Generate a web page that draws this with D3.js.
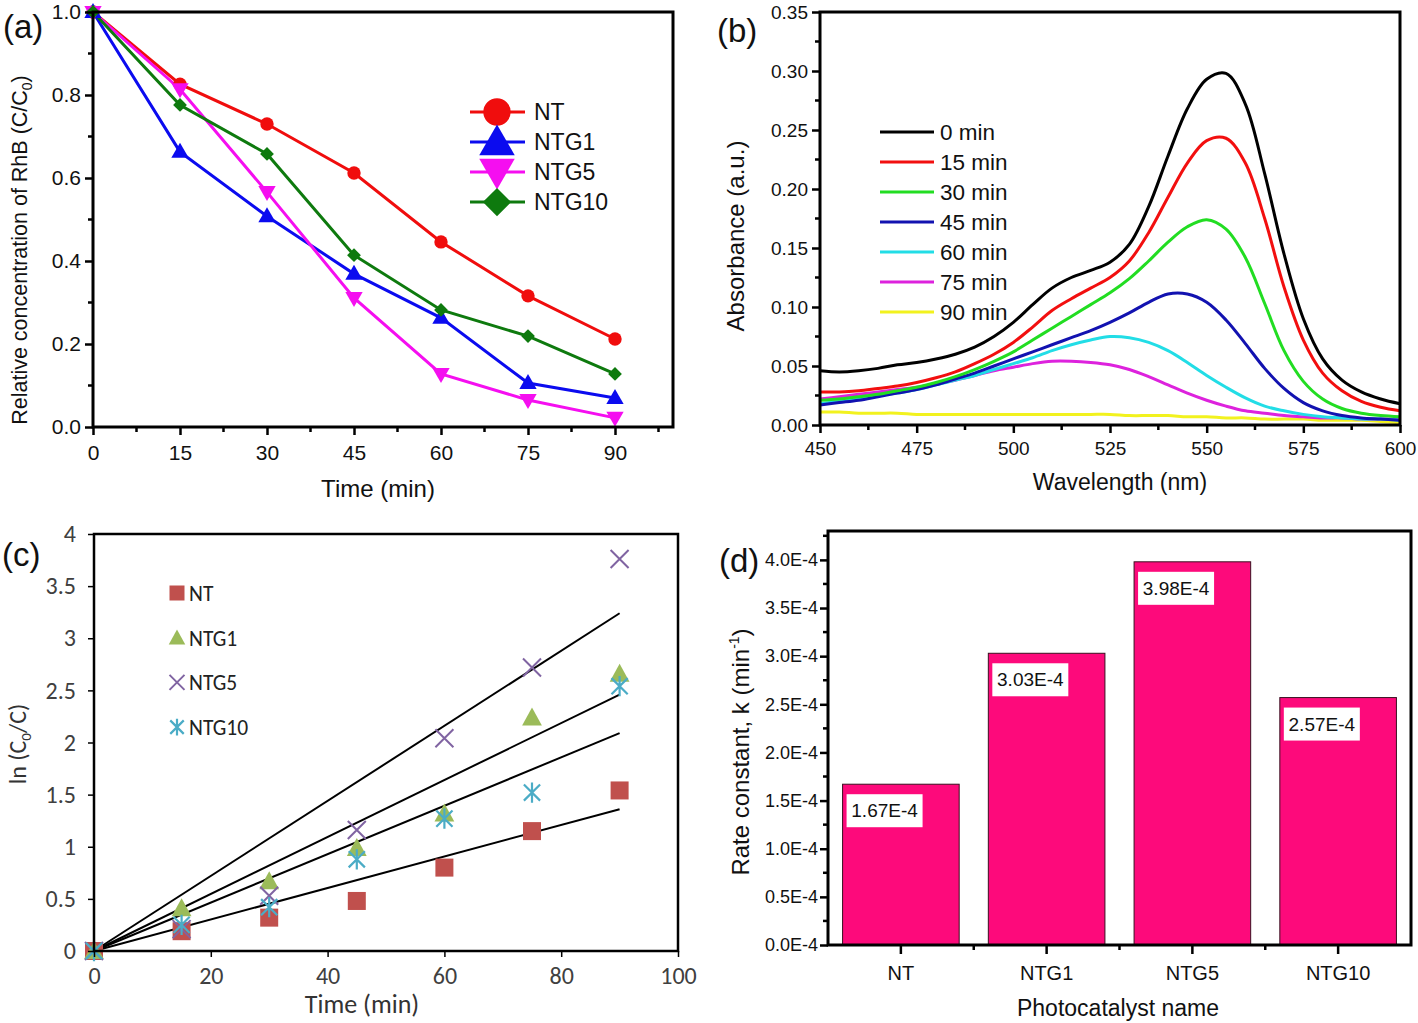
<!DOCTYPE html>
<html><head><meta charset="utf-8">
<script src="https://cdn.jsdelivr.net/npm/d3@7"></script>
<style>body{margin:0;background:#fff}svg{display:block}</style>
</head><body>
<script>
// ---------- DATA ----------
const timeMin = [0, 15, 30, 45, 60, 75, 90];
const seriesNames = ["NT", "NTG1", "NTG5", "NTG10"];
// (a) relative concentration C/C0
const concNT    = [1.0, 0.826, 0.730, 0.612, 0.446, 0.316, 0.212];
const concNTG1  = [1.0, 0.663, 0.508, 0.369, 0.263, 0.106, 0.070];
const concNTG5  = [1.0, 0.814, 0.566, 0.311, 0.128, 0.065, 0.022];
const concNTG10 = [1.0, 0.776, 0.658, 0.414, 0.282, 0.219, 0.128];
// (b) absorbance spectra
const wavelengths = d3.range(450, 601, 5);
const spectraLabels = ["0 min", "15 min", "30 min", "45 min", "60 min", "75 min", "90 min"];
const abs0  = [0.046,0.045,0.046,0.048,0.051,0.053,0.056,0.060,0.066,0.075,0.087,0.102,0.116,0.125,0.131,0.138,0.153,0.185,0.228,0.268,0.293,0.298,0.272,0.213,0.145,0.090,0.056,0.038,0.028,0.022,0.018];
const abs15 = [0.028,0.028,0.029,0.031,0.033,0.036,0.040,0.045,0.052,0.060,0.070,0.083,0.097,0.107,0.116,0.125,0.139,0.163,0.193,0.222,0.241,0.243,0.222,0.175,0.117,0.072,0.044,0.029,0.020,0.015,0.012];
const abs30 = [0.021,0.022,0.024,0.026,0.029,0.032,0.036,0.041,0.047,0.054,0.062,0.072,0.082,0.092,0.102,0.112,0.124,0.139,0.155,0.168,0.174,0.166,0.142,0.103,0.063,0.037,0.022,0.014,0.010,0.008,0.007];
const abs45 = [0.017,0.019,0.021,0.024,0.027,0.030,0.034,0.039,0.044,0.050,0.056,0.062,0.068,0.074,0.080,0.087,0.095,0.104,0.111,0.111,0.104,0.089,0.069,0.048,0.031,0.019,0.012,0.008,0.006,0.005,0.004];
const abs60 = [0.018,0.020,0.022,0.025,0.027,0.030,0.034,0.038,0.042,0.047,0.052,0.057,0.063,0.068,0.072,0.075,0.074,0.070,0.063,0.053,0.042,0.032,0.023,0.016,0.012,0.009,0.007,0.006,0.005,0.005,0.004];
const abs75 = [0.022,0.024,0.026,0.028,0.030,0.032,0.035,0.038,0.042,0.046,0.049,0.052,0.054,0.054,0.053,0.051,0.047,0.041,0.034,0.027,0.021,0.016,0.012,0.010,0.008,0.007,0.006,0.006,0.005,0.005,0.005];
const abs90 = [0.011,0.011,0.010,0.010,0.010,0.009,0.009,0.009,0.009,0.009,0.009,0.009,0.009,0.009,0.009,0.009,0.008,0.008,0.008,0.007,0.007,0.006,0.006,0.005,0.005,0.005,0.004,0.004,0.004,0.003,0.002];
// (c) ln(C0/C)
const lnNT    = [0, 0.19, 0.32, 0.48, 0.80, 1.15, 1.54];
const lnNTG1  = [0, 0.41, 0.67, 0.99, 1.32, 2.24, 2.66];
const lnNTG5  = [0, 0.21, 0.53, 1.16, 2.04, 2.72, 3.76];
const lnNTG10 = [0, 0.25, 0.42, 0.88, 1.27, 1.52, 2.54];
const trendAt90 = [1.36, 2.46, 3.24, 2.09]; // NT, NTG1, NTG5, NTG10 linear fit through origin
// (d) rate constants (x1E-4 min^-1)
const rateCats = ["NT", "NTG1", "NTG5", "NTG10"];
const rateVals = [1.67, 3.03, 3.98, 2.57];
const rateLabels = ["1.67E-4", "3.03E-4", "3.98E-4", "2.57E-4"];

// ---------- STYLE ----------
const W = 1418, H = 1023;
const NARROW = "'Liberation Sans Narrow','Arial Narrow','Liberation Sans',Arial,sans-serif";
const SANS = "'Liberation Sans',Arial,sans-serif";
const CAL = "Carlito,Calibri,Lato,'Open Sans',sans-serif";

const svg = d3.select("body").append("svg").attr("width", W).attr("height", H);

function styleAxis(g, font, size, color) {
  g.select(".domain").remove();
  g.selectAll(".tick line").attr("stroke", "#000").attr("stroke-width", 2.5);
  g.selectAll(".tick text").attr("font-family", font).attr("font-size", size).attr("fill", color || "#111");
}
function minorTicks(parent, scale, vals, orient, pos, len) {
  parent.append("g").selectAll("line").data(vals).join("line")
    .attr("stroke", "#000").attr("stroke-width", 2.5)
    .each(function(v) {
      const s = d3.select(this);
      if (orient === "bottom") s.attr("x1", scale(v)).attr("x2", scale(v)).attr("y1", pos).attr("y2", pos + len);
      else s.attr("y1", scale(v)).attr("y2", scale(v)).attr("x1", pos).attr("x2", pos - len);
    });
}
function frame(parent, x0, y0, x1, y1, sw) {
  parent.append("rect").attr("x", x0).attr("y", y0).attr("width", x1 - x0).attr("height", y1 - y0)
    .attr("fill", "none").attr("stroke", "#000").attr("stroke-width", sw);
}
function text(parent, x, y, str, size, font, anchor) {
  return parent.append("text").attr("x", x).attr("y", y).text(str)
    .attr("font-size", size).attr("font-family", font || SANS).attr("text-anchor", anchor || "start").attr("fill", "#111");
}

// ================= PANEL (a) =================
(function() {
  const g = svg.append("g");
  const L = 93, T = 12, R = 673, B = 427;
  const x = d3.scaleLinear([0, 100], [L, R]);
  const y = d3.scaleLinear([0, 1], [B, T]);
  const colors = ["#f00d0d", "#0b0bef", "#f50ef0", "#0e7a0e"];
  const data = [concNT, concNTG1, concNTG5, concNTG10];
  const symbols = [d3.symbolCircle, d3.symbolTriangle, d3.symbolTriangle, d3.symbolSquare];
  const rot = [0, 0, 180, 45];
  const sizes = [140, 130, 130, 95];

  const line = d3.line().x((d, i) => x(timeMin[i])).y(d => y(d));
  data.forEach((arr, k) => {
    g.append("path").attr("d", line(arr)).attr("fill", "none").attr("stroke", colors[k]).attr("stroke-width", 3);
  });
  data.forEach((arr, k) => {
    g.append("g").selectAll("path").data(arr).join("path")
      .attr("d", d3.symbol(symbols[k], sizes[k]))
      .attr("transform", (d, i) => `translate(${x(timeMin[i])},${y(d) + (k === 1 ? 1 : k === 2 ? -1 : 0)}) rotate(${rot[k]})`)
      .attr("fill", colors[k]);
  });

  const ax = g.append("g").attr("transform", `translate(0,${B})`)
    .call(d3.axisBottom(x).tickValues(timeMin).tickSize(8).tickPadding(10).tickFormat(d3.format("d")));
  styleAxis(ax, NARROW, 21);
  minorTicks(g, x, d3.range(7.5, 100, 15), "bottom", B, 5);
  const ay = g.append("g").attr("transform", `translate(${L},0)`)
    .call(d3.axisLeft(y).tickValues([0, 0.2, 0.4, 0.6, 0.8, 1.0]).tickSize(8).tickPadding(4).tickFormat(d3.format(".1f")));
  styleAxis(ay, NARROW, 21);
  minorTicks(g, y, [0.1, 0.3, 0.5, 0.7, 0.9], "left", L, 5);
  frame(g, L, T, R, B, 3);

  text(g, 3, 38, "(a)", 33);
  text(g, 378, 497, "Time (min)", 24, SANS, "middle");
  const yt = g.append("text").attr("transform", "translate(27,250) rotate(-90)")
    .attr("text-anchor", "middle").attr("font-family", SANS).attr("font-size", 21.5).attr("fill", "#111");
  yt.append("tspan").text("Relative concentration of RhB (C/C");
  yt.append("tspan").text("0").attr("font-size", 14).attr("dy", 5);
  yt.append("tspan").text(")").attr("dy", -5);

  // legend
  seriesNames.forEach((n, k) => {
    const ly = 112 + 30 * k;
    g.append("line").attr("x1", 470).attr("x2", 525).attr("y1", ly).attr("y2", ly).attr("stroke", colors[k]).attr("stroke-width", 3);
    g.append("path").attr("d", d3.symbol(symbols[k], sizes[k] * 4.2))
      .attr("transform", `translate(497,${ly + (k === 1 ? 3 : k === 2 ? -3 : 0)}) rotate(${rot[k]})`).attr("fill", colors[k]);
    text(g, 534, ly + 8, n, 23, SANS);
  });
})();

// ================= PANEL (b) =================
(function() {
  const g = svg.append("g");
  const L = 820, T = 12, R = 1400, B = 425;
  const x = d3.scaleLinear([450, 600], [L, R]);
  const y = d3.scaleLinear([0, 0.35], [B, T]);
  const colors = ["#000000", "#f20f0f", "#22dd22", "#1212b0", "#22dde6", "#dd22dd", "#f2f21e"];
  const data = [abs0, abs15, abs30, abs45, abs60, abs75, abs90];
  const line = d3.line().x((d, i) => x(wavelengths[i])).y(d => y(d)).curve(d3.curveCatmullRom);
  for (let k = data.length - 1; k >= 0; k--) {
    g.append("path").attr("d", line(data[k])).attr("fill", "none").attr("stroke", colors[k]).attr("stroke-width", 3);
  }
  const ax = g.append("g").attr("transform", `translate(0,${B})`)
    .call(d3.axisBottom(x).tickValues(d3.range(450, 601, 25)).tickSize(8).tickPadding(9).tickFormat(d3.format("d")));
  styleAxis(ax, NARROW, 19);
  minorTicks(g, x, d3.range(462.5, 600, 25), "bottom", B, 5);
  const ay = g.append("g").attr("transform", `translate(${L},0)`)
    .call(d3.axisLeft(y).tickValues(d3.range(0, 0.351, 0.05)).tickSize(8).tickPadding(4).tickFormat(d3.format(".2f")));
  styleAxis(ay, NARROW, 19);
  minorTicks(g, y, d3.range(0.025, 0.35, 0.05), "left", L, 5);
  frame(g, L, T, R, B, 3);

  text(g, 717, 42, "(b)", 33);
  text(g, 1120, 490, "Wavelength (nm)", 23, SANS, "middle");
  g.append("text").attr("transform", "translate(744,236) rotate(-90)").attr("text-anchor", "middle")
    .attr("font-family", SANS).attr("font-size", 24).attr("fill", "#111").text("Absorbance (a.u.)");

  spectraLabels.forEach((n, k) => {
    const ly = 132 + 30 * k;
    g.append("line").attr("x1", 880).attr("x2", 934).attr("y1", ly).attr("y2", ly).attr("stroke", colors[k]).attr("stroke-width", 3);
    text(g, 940, ly + 8, n, 22.5, SANS);
  });
})();

// ================= PANEL (c) =================
(function() {
  const g = svg.append("g");
  const L = 94, T = 534, R = 678, B = 951;
  const x = d3.scaleLinear([0, 100], [L, R]);
  const y = d3.scaleLinear([0, 4], [B, T]);
  const colors = ["#c0504d", "#9bbb59", "#8064a2", "#4bacc6"];
  const data = [lnNT, lnNTG1, lnNTG5, lnNTG10];

  trendAt90.forEach(v => {
    g.append("line").attr("x1", x(0)).attr("y1", y(0)).attr("x2", x(90)).attr("y2", y(v))
      .attr("stroke", "#000").attr("stroke-width", 2);
  });

  function marker(sel, k, s) {
    const c = colors[k];
    if (k === 0) sel.append("rect").attr("x", -s / 2).attr("y", -s / 2).attr("width", s).attr("height", s).attr("fill", c);
    else if (k === 1) sel.append("path").attr("d", `M0,${-s * 0.55}L${s * 0.55},${s * 0.45}L${-s * 0.55},${s * 0.45}Z`).attr("fill", c);
    else if (k === 2) {
      const h = s * 0.5;
      sel.append("path").attr("d", `M${-h},${-h}L${h},${h}M${-h},${h}L${h},${-h}`).attr("stroke", c).attr("stroke-width", 2).attr("fill", "none");
    } else {
      const h = s * 0.45;
      sel.append("path").attr("d", `M${-h},${-h}L${h},${h}M${-h},${h}L${h},${-h}M0,${-h * 1.25}L0,${h * 1.25}`).attr("stroke", c).attr("stroke-width", 2.2).attr("fill", "none");
    }
  }
  data.forEach((arr, k) => {
    arr.forEach((v, i) => {
      const m = g.append("g").attr("transform", `translate(${x(timeMin[i])},${y(v)})`);
      marker(m, k, 18);
    });
  });

  const ax = g.append("g").attr("transform", `translate(0,${B})`)
    .call(d3.axisBottom(x).tickValues(d3.range(0, 101, 20)).tickSize(6).tickPadding(10).tickFormat(d3.format("d")));
  styleAxis(ax, CAL, 24, "#404040");
  ax.selectAll(".tick line").attr("stroke-width", 1.5);
  const ay = g.append("g").attr("transform", `translate(${L},0)`)
    .call(d3.axisLeft(y).tickValues(d3.range(0, 4.01, 0.5)).tickSize(6).tickPadding(12).tickFormat(d => d3.format("~g")(d)));
  styleAxis(ay, CAL, 24, "#404040");
  ay.selectAll(".tick line").attr("stroke-width", 1.5);
  frame(g, L, T, R, B, 2.5);

  text(g, 2, 566, "(c)", 33);
  text(g, 362, 1013, "Time (min)", 26, CAL, "middle").attr("fill", "#333");
  const yt = g.append("text").attr("transform", "translate(26,744) rotate(-90)").attr("text-anchor", "middle")
    .attr("font-family", CAL).attr("font-size", 24).attr("fill", "#333");
  yt.append("tspan").text("ln (C");
  yt.append("tspan").text("0").attr("font-size", 15).attr("dy", 5);
  yt.append("tspan").text("/C)").attr("dy", -5);

  seriesNames.forEach((n, k) => {
    const ly = 593 + 44.7 * k;
    const m = g.append("g").attr("transform", `translate(177,${ly})`);
    marker(m, k, 15);
    text(g, 189, ly + 8, n, 21.5, CAL).attr("fill", "#222");
  });
})();

// ================= PANEL (d) =================
(function() {
  const g = svg.append("g");
  const L = 828, T = 531, R = 1411, B = 945;
  const x = d3.scaleBand(rateCats, [L, R]).paddingInner(0.2).paddingOuter(0.1);
  const y = d3.scaleLinear([0, 4.3], [B, T]);

  g.append("g").selectAll("rect").data(rateVals).join("rect")
    .attr("x", (d, i) => x(rateCats[i])).attr("y", d => y(d))
    .attr("width", x.bandwidth()).attr("height", d => B - y(d))
    .attr("fill", "#fd0a7b").attr("stroke", "#3a1020").attr("stroke-width", 1);

  rateVals.forEach((v, i) => {
    const bx = x(rateCats[i]) + 4, by = y(v) + 10;
    g.append("rect").attr("x", bx).attr("y", by).attr("width", 76).attr("height", 33).attr("fill", "#fff");
    text(g, bx + 38, by + 23, rateLabels[i], 19, NARROW, "middle");
  });

  const ax = g.append("g").attr("transform", `translate(0,${B})`)
    .call(d3.axisBottom(x).tickSize(9).tickPadding(12));
  styleAxis(ax, NARROW, 20);
  const step = x.step();
  minorTicks(g, d3.scaleLinear([0, 1], [L, L + 1]), [1, 2, 3].map(i => L + step * i - L), "bottom", B, 5);
  const ay = g.append("g").attr("transform", `translate(${L},0)`)
    .call(d3.axisLeft(y).tickValues(d3.range(0, 4.01, 0.5)).tickSize(8).tickPadding(2).tickFormat(d => d.toFixed(1) + "E-4"));
  styleAxis(ay, NARROW, 18);
  minorTicks(g, y, d3.range(0.25, 4.3, 0.5), "left", L, 5);
  frame(g, L, T, R, B, 3);

  text(g, 719, 572, "(d)", 33);
  text(g, 1118, 1016, "Photocatalyst name", 23, NARROW, "middle");
  const yt = g.append("text").attr("transform", "translate(749,752) rotate(-90)").attr("text-anchor", "middle")
    .attr("font-family", SANS).attr("font-size", 24).attr("fill", "#111");
  yt.append("tspan").text("Rate constant, k (min");
  yt.append("tspan").text("-1").attr("font-size", 14).attr("dy", -10);
  yt.append("tspan").text(")").attr("dy", 10);
})();
</script>
</body></html>
